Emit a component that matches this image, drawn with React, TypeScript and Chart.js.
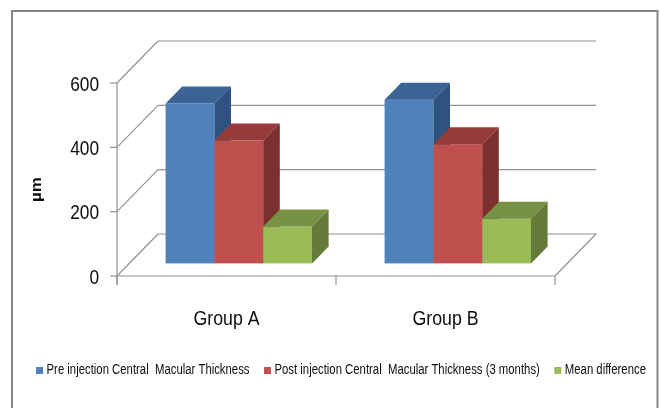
import React, { useEffect, useRef } from "react";
import { Chart, registerables } from "chart.js";

Chart.register(...registerables);

// ---- data ----
const categories = ["Group A", "Group B"];
const seriesNames = [
  "Pre injection Central  Macular Thickness",
  "Post injection Central  Macular Thickness (3 months)",
  "Mean difference",
];
const preInjection = [497, 509];
const postInjection = [382, 370];
const meanDifference = [115, 139];
const yTicks = [0, 200, 400, 600];
const axisTitle = "µm";

// ---- styles ----
const FRONT = ["#4F81BD", "#C0504D", "#9BBB59"];
const TOP = ["#3C6394", "#953C3A", "#789245"];
const SIDE = ["#2F5381", "#7B302E", "#657B3A"];
const GRID = "#929292";
const FONT = '"Liberation Sans", Arial, sans-serif';
const SQUEEZE = 0.865;
const LEGEND_SQUEEZE = 0.81;
const DEPTH_DX = 41;
const DEPTH_DY = -42;
const BAR_FRONT = 0.3;
const BAR_DEPTH = 0.405;

function squeezeText(ctx: CanvasRenderingContext2D, text: string, x: number, y: number, align: CanvasTextAlign, k = SQUEEZE) {
  ctx.save();
  ctx.translate(x, y);
  ctx.scale(k, 1);
  ctx.textAlign = align;
  ctx.fillText(text, 0, 0);
  ctx.restore();
}

function line(ctx: CanvasRenderingContext2D, x1: number, y1: number, x2: number, y2: number) {
  ctx.beginPath();
  ctx.moveTo(x1, y1);
  ctx.lineTo(x2, y2);
  ctx.stroke();
}

const threeD = {
  id: "threeD",
  beforeDraw(chart: any) {
    const ctx: CanvasRenderingContext2D = chart.ctx;
    ctx.save();
    ctx.fillStyle = "#ffffff";
    ctx.fillRect(0, 0, chart.width, chart.height);
    ctx.strokeStyle = "#858585";
    ctx.lineWidth = 2;
    ctx.beginPath();
    ctx.moveTo(12, chart.height + 5);
    ctx.lineTo(12, 11);
    ctx.lineTo(657.5, 11);
    ctx.lineTo(657.5, chart.height + 5);
    ctx.stroke();
    ctx.restore();
  },
  beforeDatasetsDraw(chart: any) {
    const ctx: CanvasRenderingContext2D = chart.ctx;
    const ys = chart.scales.y;
    const xs = chart.scales.x;
    const L = chart.chartArea.left;
    const R = chart.chartArea.right;
    const B = ys.getPixelForValue(0);
    const T = ys.getPixelForValue(yTicks[yTicks.length - 1]);
    ctx.save();
    ctx.strokeStyle = GRID;
    ctx.lineWidth = 1.2;
    for (const v of yTicks) {
      const py = ys.getPixelForValue(v);
      line(ctx, L, py, L + DEPTH_DX, py + DEPTH_DY);
      line(ctx, L + DEPTH_DX, py + DEPTH_DY, R + DEPTH_DX, py + DEPTH_DY);
      line(ctx, L - 7, py, L, py);
    }
    line(ctx, L, T, L, B + 9);
    line(ctx, L, B, R, B);
    line(ctx, R, B, R + DEPTH_DX, B + DEPTH_DY);
    for (let i = 0; i <= categories.length; i++) {
      const px = xs.getPixelForValue(i - 0.5);
      line(ctx, px, B, px, B + 9);
    }
    ctx.restore();

    // bars as 3D boxes
    const ox = DEPTH_DX * BAR_FRONT;
    const oy = DEPTH_DY * BAR_FRONT;
    const bdx = DEPTH_DX * BAR_DEPTH;
    const bdy = DEPTH_DY * BAR_DEPTH;
    ctx.save();
    for (let i = 0; i < categories.length; i++) {
      for (let d = 0; d < chart.data.datasets.length; d++) {
        const el = chart.getDatasetMeta(d).data[i];
        if (!el) continue;
        const p = el.getProps(["x", "y", "base", "width"], true);
        const l = p.x - p.width / 2 + ox;
        const r = p.x + p.width / 2 + ox;
        const t = p.y + oy;
        const b = p.base + oy;
        ctx.fillStyle = FRONT[d];
        ctx.fillRect(l, t, r - l, b - t);
        ctx.fillStyle = TOP[d];
        ctx.beginPath();
        ctx.moveTo(l, t);
        ctx.lineTo(r, t);
        ctx.lineTo(r + bdx, t + bdy);
        ctx.lineTo(l + bdx, t + bdy);
        ctx.closePath();
        ctx.fill();
        ctx.fillStyle = SIDE[d];
        ctx.beginPath();
        ctx.moveTo(r, t);
        ctx.lineTo(r + bdx, t + bdy);
        ctx.lineTo(r + bdx, b + bdy);
        ctx.lineTo(r, b);
        ctx.closePath();
        ctx.fill();
      }
    }
    ctx.restore();
    return false;
  },
  afterDraw(chart: any) {
    const ctx: CanvasRenderingContext2D = chart.ctx;
    const ys = chart.scales.y;
    const xs = chart.scales.x;
    const L = chart.chartArea.left;
    const B = ys.getPixelForValue(0);
    ctx.save();
    ctx.fillStyle = "#0d0d0d";
    ctx.font = `20px ${FONT}`;
    ctx.textBaseline = "middle";
    for (const v of yTicks) {
      squeezeText(ctx, String(v), L - 18, ys.getPixelForValue(v) + 2, "right");
    }
    ctx.font = `20.5px ${FONT}`;
    ctx.textBaseline = "alphabetic";
    categories.forEach((c, i) => {
      squeezeText(ctx, c, xs.getPixelForTick(i), B + 49, "center");
    });
    ctx.font = `bold 17px ${FONT}`;
    ctx.save();
    ctx.translate(37, (chart.chartArea.top + chart.chartArea.bottom) / 2 + 10);
    ctx.rotate(-Math.PI / 2);
    ctx.scale(1, SQUEEZE);
    ctx.textAlign = "center";
    ctx.textBaseline = "middle";
    ctx.fillText(axisTitle, 0, 0);
    ctx.restore();
    // legend
    ctx.font = `14px ${FONT}`;
    ctx.textBaseline = "middle";
    const box = 7;
    const gapBox = 3.5;
    const gapItem = 14.5;
    const widths = chart.data.datasets.map((ds: any) => ctx.measureText(ds.label).width * LEGEND_SQUEEZE);
    const total = widths.reduce((a: number, w: number) => a + box + gapBox + w, 0) + gapItem * (widths.length - 1);
    let lx = 341 - total / 2;
    const ly = 370.5;
    chart.data.datasets.forEach((ds: any, d: number) => {
      ctx.fillStyle = FRONT[d];
      ctx.fillRect(lx, ly - 3.5, box, box);
      ctx.fillStyle = "#0d0d0d";
      squeezeText(ctx, ds.label, lx + box + gapBox, ly, "left", LEGEND_SQUEEZE);
      lx += box + gapBox + widths[d] + gapItem;
    });
    ctx.restore();
  },
};

export default function App() {
  const ref = useRef<HTMLCanvasElement | null>(null);
  useEffect(() => {
    if (!ref.current) return;
    const seriesValues = [preInjection, postInjection, meanDifference];
    const chart = new Chart(ref.current, {
      type: "bar",
      data: {
        labels: categories,
        datasets: seriesNames.map((name, d) => ({
          label: name,
          data: seriesValues[d],
          backgroundColor: FRONT[d],
          barPercentage: 1,
          categoryPercentage: 0.6685,
        })),
      },
      options: {
        animation: false,
        responsive: false,
        devicePixelRatio: 1,
        layout: { padding: { left: 0, right: 105, top: 83, bottom: 0 } },
        plugins: { legend: { display: false }, tooltip: { enabled: false }, title: { display: false } },
        scales: {
          x: {
            grid: { display: false },
            border: { display: false },
            ticks: { display: false },
            afterFit: (s: any) => {
              s.height = 132;
            },
          },
          y: {
            min: 0,
            max: 600,
            afterBuildTicks: (s: any) => {
              s.ticks = yTicks.map((v) => ({ value: v }));
            },
            grid: { display: false },
            border: { display: false },
            ticks: { display: false },
            afterFit: (s: any) => {
              s.width = 117;
            },
          },
        },
      },
      plugins: [threeD],
    });
    return () => chart.destroy();
  }, []);
  return (
    <div style={{ position: "fixed", left: 0, top: 0, width: 660, height: 408, background: "#fff" }}>
      <canvas ref={ref} width={660} height={408} style={{ display: "block" }} />
    </div>
  );
}
